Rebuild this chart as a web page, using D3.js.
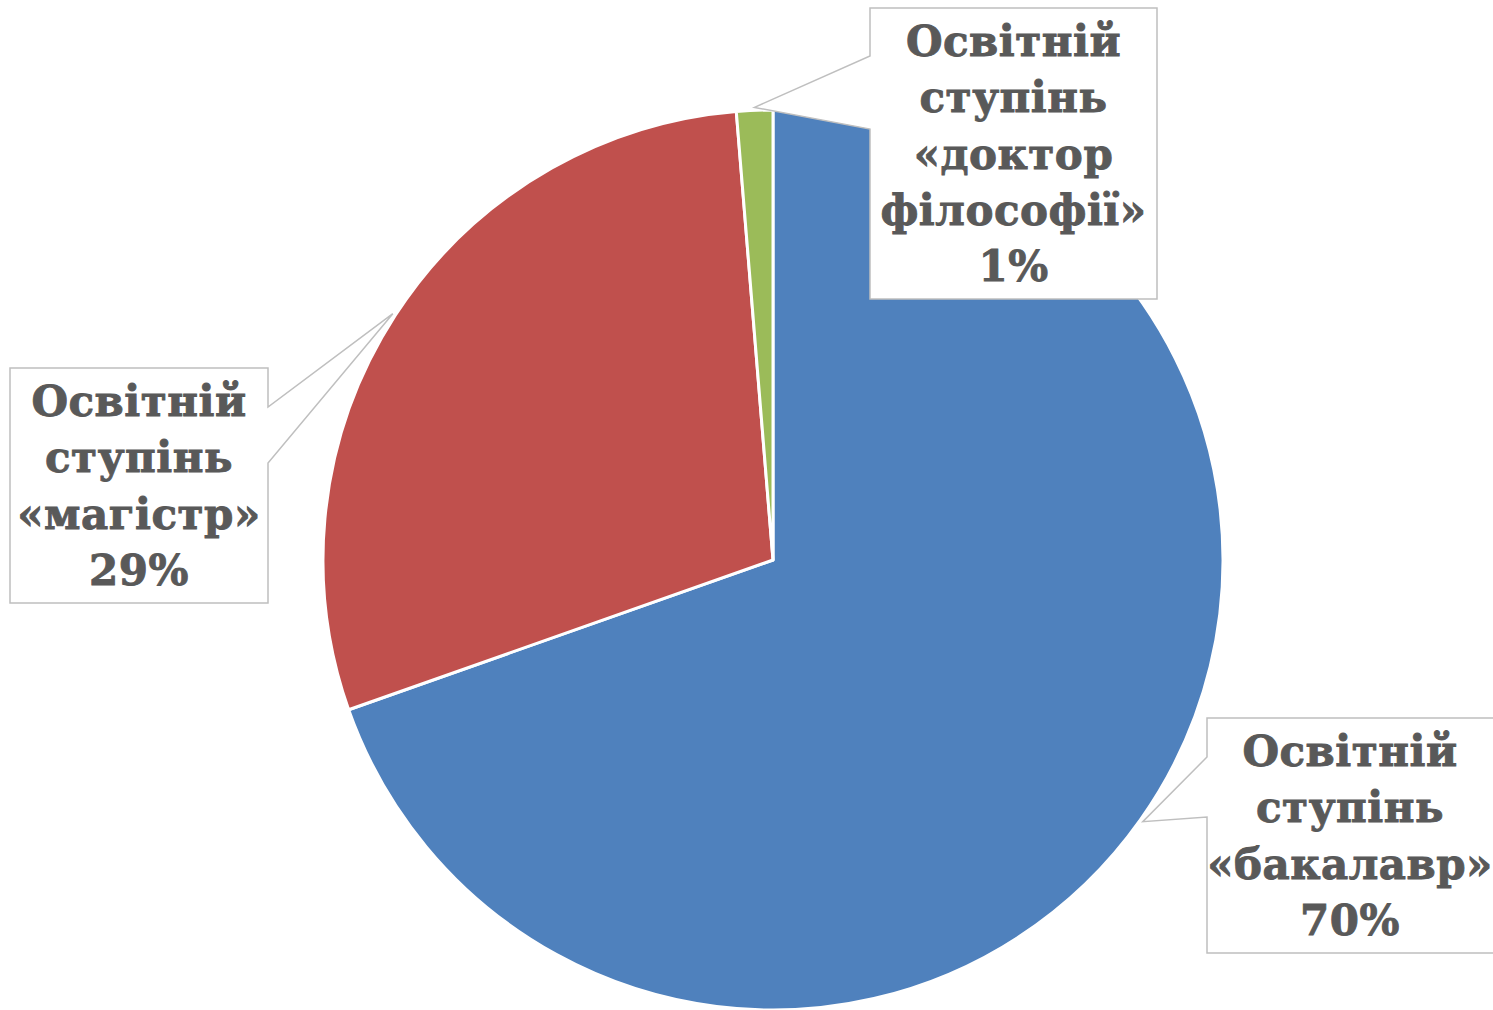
<!DOCTYPE html>
<html>
<head>
<meta charset="utf-8">
<script src="https://cdn.jsdelivr.net/npm/d3@7"></script>
<style>
  body { margin: 0; background: #fff; }
  svg { display: block; }
</style>
</head>
<body>
<div class="chart"></div>
<script>
// data
const CATEGORIES = ['Освітній ступінь «бакалавр»', 'Освітній ступінь «магістр»', 'Освітній ступінь «доктор філософії»'];
const VALUES = [69.6, 29.1, 1.3];
const COLORS = ['#4F81BD', '#C0504D', '#9BBB59'];

var width = 1493, height = 1010;
var cx = 773, cy = 560, radius = 450;

// callout boxes (layout): box rect + where the pointer leaves the box edge
var BOXES = [
  {x: 1207, y: 718, w: 290, h: 235, side: 'left',  b1: 39, b2: 99},
  {x: 10,   y: 368, w: 258, h: 235, side: 'right', b1: 39, b2: 95},
  {x: 870,  y: 8,   w: 287, h: 291, side: 'left',  b1: 48, b2: 121}
];

var svg = d3.select('.chart')
  .append('svg')
  .attr('width', width)
  .attr('height', height);

var g = svg.append('g')
  .attr('transform', 'translate(' + cx + ',' + cy + ')');

var total = d3.sum(VALUES);
var data = CATEGORIES.map((c, i) => ({name: c, value: VALUES[i], color: COLORS[i], box: BOXES[i]}));

var pie = d3.pie().sort(null).value(d => d.value);
var arcs = pie(data);

var arc = d3.arc().innerRadius(0).outerRadius(radius);
var tipArc = d3.arc().innerRadius(radius + 3).outerRadius(radius + 3);

g.selectAll('path.slice')
  .data(arcs)
  .enter()
  .append('path')
  .attr('class', 'slice')
  .attr('d', arc)
  .attr('fill', d => d.data.color)
  .attr('stroke', '#fff')
  .attr('stroke-width', 3)
  .attr('stroke-linejoin', 'round');

// callout shapes
function callout(d) {
  var b = d.data.box;
  var t = tipArc.centroid(d);
  var tx = t[0] + cx, ty = t[1] + cy;
  var x0 = b.x, y0 = b.y, x1 = b.x + b.w, y1 = b.y + b.h;
  var p = d3.path();
  if (b.side === 'left') {
    p.moveTo(x0, y0); p.lineTo(x1, y0); p.lineTo(x1, y1); p.lineTo(x0, y1);
    p.lineTo(x0, y0 + b.b2); p.lineTo(tx, ty); p.lineTo(x0, y0 + b.b1);
  } else {
    p.moveTo(x0, y0); p.lineTo(x1, y0); p.lineTo(x1, y0 + b.b1);
    p.lineTo(tx, ty); p.lineTo(x1, y0 + b.b2); p.lineTo(x1, y1); p.lineTo(x0, y1);
  }
  p.closePath();
  return p.toString();
}

svg.selectAll('path.callout')
  .data(arcs)
  .enter()
  .append('path')
  .attr('class', 'callout')
  .attr('d', callout)
  .attr('fill', '#fff')
  .attr('stroke', '#BFBFBF')
  .attr('stroke-width', 1.5);

// label text
var fontSize = 42, lineH = 56.4;

svg.selectAll('text.label')
  .data(arcs)
  .enter()
  .append('text')
  .attr('class', 'label')
  .attr('text-anchor', 'middle')
  .attr('font-family', '"DejaVu Serif", serif')
  .attr('font-weight', 'bold')
  .attr('font-size', fontSize)
  .attr('fill', '#595959')
  .attr('stroke', '#595959')
  .attr('stroke-width', 0.9)
  .attr('letter-spacing', 0.5)
  .each(function(d) {
    var b = d.data.box;
    var lines = d.data.name.split(' ').concat([Math.round(d.data.value / total * 100) + '%']);
    var midX = b.x + (b.x + b.w > width ? (width - b.x) : b.w) / 2;
    var firstY = b.y + b.h / 2 - (lines.length - 1) / 2 * lineH + fontSize * 0.36;
    d3.select(this).selectAll('tspan')
      .data(lines)
      .enter()
      .append('tspan')
      .attr('x', midX)
      .attr('y', (l, i) => firstY + i * lineH)
      .text(l => l);
  });
</script>
</body>
</html>
